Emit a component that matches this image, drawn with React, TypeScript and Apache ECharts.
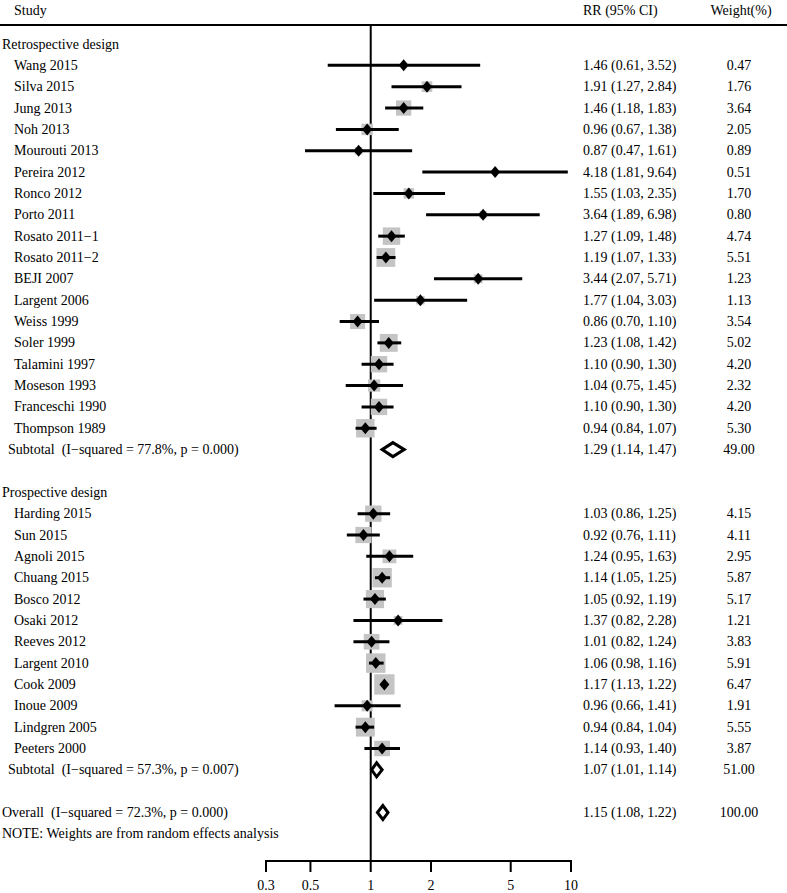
import React, { useEffect, useRef } from "react";
import * as echarts from "echarts";

const retroNames = ["Wang 2015", "Silva 2015", "Jung 2013", "Noh 2013", "Mourouti 2013", "Pereira 2012", "Ronco 2012", "Porto 2011", "Rosato 2011\u22121", "Rosato 2011\u22122", "BEJI 2007", "Largent 2006", "Weiss 1999", "Soler 1999", "Talamini 1997", "Moseson 1993", "Franceschi 1990", "Thompson 1989"];
const retroRR = [1.46, 1.91, 1.46, 0.96, 0.87, 4.18, 1.55, 3.64, 1.27, 1.19, 3.44, 1.77, 0.86, 1.23, 1.10, 1.04, 1.10, 0.94];
const retroLo = [0.61, 1.27, 1.18, 0.67, 0.47, 1.81, 1.03, 1.89, 1.09, 1.07, 2.07, 1.04, 0.70, 1.08, 0.90, 0.75, 0.90, 0.84];
const retroHi = [3.52, 2.84, 1.83, 1.38, 1.61, 9.64, 2.35, 6.98, 1.48, 1.33, 5.71, 3.03, 1.10, 1.42, 1.30, 1.45, 1.30, 1.07];
const retroW = [0.47, 1.76, 3.64, 2.05, 0.89, 0.51, 1.70, 0.80, 4.74, 5.51, 1.23, 1.13, 3.54, 5.02, 4.20, 2.32, 4.20, 5.30];

const prosNames = ["Harding 2015", "Sun 2015", "Agnoli 2015", "Chuang 2015", "Bosco 2012", "Osaki 2012", "Reeves 2012", "Largent 2010", "Cook 2009", "Inoue 2009", "Lindgren 2005", "Peeters 2000"];
const prosRR = [1.03, 0.92, 1.24, 1.14, 1.05, 1.37, 1.01, 1.06, 1.17, 0.96, 0.94, 1.14];
const prosLo = [0.86, 0.76, 0.95, 1.05, 0.92, 0.82, 0.82, 0.98, 1.13, 0.66, 0.84, 0.93];
const prosHi = [1.25, 1.11, 1.63, 1.25, 1.19, 2.28, 1.24, 1.16, 1.22, 1.41, 1.04, 1.40];
const prosW = [4.15, 4.11, 2.95, 5.87, 5.17, 1.21, 3.83, 5.91, 6.47, 1.91, 5.55, 3.87];

const retroSubtotal = { label: "Subtotal  (I\u2212squared = 77.8%, p = 0.000)", rr: 1.29, lo: 1.14, hi: 1.47, w: 49.0 };
const prosSubtotal = { label: "Subtotal  (I\u2212squared = 57.3%, p = 0.007)", rr: 1.07, lo: 1.01, hi: 1.14, w: 51.0 };
const overall = { label: "Overall  (I\u2212squared = 72.3%, p = 0.000)", rr: 1.15, lo: 1.08, hi: 1.22, w: 100.0 };

const groupTitles = ["Retrospective design", "Prospective design"];
const noteText = "NOTE: Weights are from random effects analysis";
const headers = ["Study", "RR (95% CI)", "Weight(%)"];
const axisTicks = [0.3, 0.5, 1, 2, 5, 10];

type Row = { kind: string; label: string; rr?: number; lo?: number; hi?: number; w?: number; row: number };

function buildRows(): Row[] {
  const rows: Row[] = [];
  let r = 0;
  rows.push({ kind: "group", label: groupTitles[0], row: r++ });
  retroNames.forEach((n, i) => rows.push({ kind: "study", label: n, rr: retroRR[i], lo: retroLo[i], hi: retroHi[i], w: retroW[i], row: r++ }));
  rows.push({ kind: "subtotal", ...retroSubtotal, row: r++ });
  r++;
  rows.push({ kind: "group", label: groupTitles[1], row: r++ });
  prosNames.forEach((n, i) => rows.push({ kind: "study", label: n, rr: prosRR[i], lo: prosLo[i], hi: prosHi[i], w: prosW[i], row: r++ }));
  rows.push({ kind: "subtotal", ...prosSubtotal, row: r++ });
  r++;
  rows.push({ kind: "overall", ...overall, row: r++ });
  rows.push({ kind: "note", label: noteText, row: r++ });
  return rows;
}

const FONT = "Liberation Serif";
const FS = 14;

export default function App() {
  const ref = useRef<HTMLDivElement>(null);
  useEffect(() => {
    if (!ref.current) return;
    const chart = echarts.init(ref.current, null, { renderer: "svg" });
    const rows = buildRows();
    const txt = (text: string, x: number, y: number, align: string = "left") => ({
      type: "text",
      style: { text, x, y, fill: "#000", fontSize: FS, fontFamily: FONT, align, verticalAlign: "middle" },
    });
    const option: any = {
      animation: false,
      backgroundColor: "#fff",
      grid: { left: 266, right: 216, top: 25, bottom: 32, containLabel: false },
      xAxis: { type: "log", logBase: 10, min: 0.3, max: 10, show: false },
      yAxis: { type: "value", inverse: true, min: -0.89, max: 38.27, show: false },
      graphic: [
        { type: "line", shape: { x1: 0, y1: 25, x2: 787, y2: 25 }, style: { stroke: "#000", lineWidth: 2 } },
        { type: "text", x: 14, y: 10, style: { text: headers[0], fill: "#000", fontSize: FS, fontFamily: FONT, verticalAlign: "middle" } },
        { type: "text", x: 583, y: 10, style: { text: headers[1], fill: "#000", fontSize: FS, fontFamily: FONT, verticalAlign: "middle" } },
        { type: "text", x: 741, y: 10, style: { text: headers[2], fill: "#000", fontSize: FS, fontFamily: FONT, align: "center", verticalAlign: "middle" } },
      ],
      series: [
        {
          type: "custom",
          clip: false,
          data: [[1, 0]],
          renderItem: (params: any, api: any) => {
            const cs = params.coordSys;
            const x = api.coord([1, 0])[0];
            return { type: "line", shape: { x1: x, y1: cs.y, x2: x, y2: cs.y + cs.height }, style: { stroke: "#000", lineWidth: 2 } };
          },
        },
        {
          type: "custom",
          clip: false,
          data: axisTicks.map((t) => [t, 0]),
          renderItem: (params: any, api: any) => {
            const cs = params.coordSys;
            const yb = cs.y + cs.height;
            const x = api.coord([axisTicks[params.dataIndex], 0])[0];
            const children: any[] = [
              { type: "line", shape: { x1: x, y1: yb, x2: x, y2: yb + 11 }, style: { stroke: "#000", lineWidth: 2 } },
              txt(String(axisTicks[params.dataIndex]), x, yb + 24, "center"),
            ];
            if (params.dataIndex === 0) {
              const x0 = api.coord([axisTicks[0], 0])[0];
              const x1 = api.coord([axisTicks[axisTicks.length - 1], 0])[0];
              children.push({ type: "line", shape: { x1: x0 - 1, y1: yb, x2: x1 + 1, y2: yb }, style: { stroke: "#000", lineWidth: 2 } });
            }
            return { type: "group", children };
          },
        },
        {
          type: "custom",
          clip: false,
          data: rows.map((r) => [r.rr ?? 1, r.row]),
          renderItem: (params: any, api: any) => {
            const r = rows[params.dataIndex];
            const y = api.coord([1, r.row])[1];
            const children: any[] = [];
            if (r.kind === "group" || r.kind === "note") {
              children.push(txt(r.label, 2, y));
            } else if (r.kind === "study") {
              const xc = api.coord([r.rr, r.row])[0];
              const xl = api.coord([r.lo, r.row])[0];
              const xh = api.coord([r.hi, r.row])[0];
              const s = 8 * Math.sqrt(r.w as number);
              children.push({ type: "rect", shape: { x: xc - s / 2, y: y - s / 2, width: s, height: s }, style: { fill: "#c4c4c4" } });
              children.push({ type: "line", shape: { x1: xl, y1: y, x2: xh, y2: y }, style: { stroke: "#000", lineWidth: 3 } });
              children.push({ type: "polygon", shape: { points: [[xc - 5, y], [xc, y - 6], [xc + 5, y], [xc, y + 6]] }, style: { fill: "#000" } });
              children.push(txt(r.label, 14, y));
              children.push(txt(`${(r.rr as number).toFixed(2)} (${(r.lo as number).toFixed(2)}, ${(r.hi as number).toFixed(2)})`, 583, y));
              children.push(txt((r.w as number).toFixed(2), 739, y, "center"));
            } else {
              const xc = api.coord([r.rr, r.row])[0];
              const xl = api.coord([r.lo, r.row])[0];
              const xh = api.coord([r.hi, r.row])[0];
              children.push({ type: "polygon", shape: { points: [[xl, y], [xc, y - 7], [xh, y], [xc, y + 7]] }, style: { fill: "#fff", stroke: "#000", lineWidth: 3 } });
              children.push(txt(r.label, r.kind === "subtotal" ? 8 : 2, y));
              children.push(txt(`${(r.rr as number).toFixed(2)} (${(r.lo as number).toFixed(2)}, ${(r.hi as number).toFixed(2)})`, 583, y));
              children.push(txt((r.w as number).toFixed(2), 739, y, "center"));
            }
            return { type: "group", children };
          },
        },
      ],
    };
    chart.setOption(option);
    return () => chart.dispose();
  }, []);
  return <div ref={ref} style={{ position: "fixed", left: 0, top: 0, width: 787, height: 893 }} />;
}
